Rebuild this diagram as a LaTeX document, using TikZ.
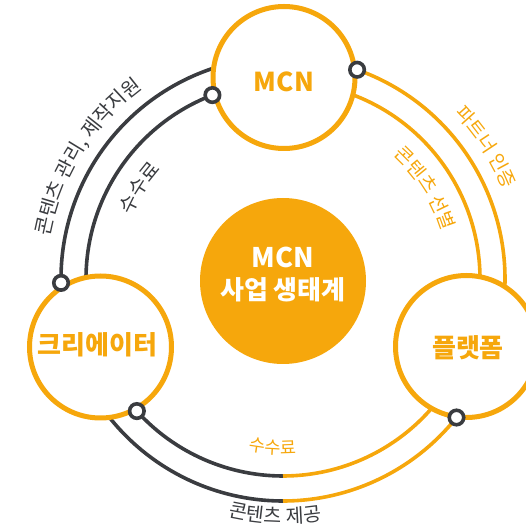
\documentclass[tikz,border=0pt]{standalone}
\usepackage{fontspec}
\setmainfont{Noto Sans CJK KR}
\usetikzlibrary{decorations.text}
\definecolor{org}{RGB}{246,167,12}
\definecolor{drk}{RGB}{58,60,64}
\begin{document}
\begin{tikzpicture}[x=1pt,y=1pt,
  arcline/.style={line width=3.6pt},
  bigring/.style={circle, draw=org, line width=5pt, fill=white, minimum size=142pt, inner sep=0pt},
  dotring/.style={circle, draw=drk, line width=3.6pt, fill=white, minimum size=14.5pt, inner sep=0pt},
  ringtext/.style={text=org, font=\bfseries\fontsize{26}{30}\selectfont, inner sep=0pt},
]
\useasboundingbox (0,0) rectangle (526,530);
\clip (0,0) rectangle (526,530);
\coordinate (C) at (283,251);

% centre disc
\node[circle, fill=org, minimum size=166pt, inner sep=0pt] (eco) at (283,249) {};
\node[text=white, font=\bfseries\fontsize{27}{30}\selectfont, anchor=base] (ecoA) at (283,262) {MCN};
\node[text=white, font=\bfseries\fontsize{26}{30}\selectfont, anchor=base] (ecoB) at (283,230) {사업 생태계};

% connecting arcs
\draw[arcline, drk] ([shift={(185:222)}]C) arc[start angle=185, end angle=106, radius=222];
\draw[arcline, drk] ([shift={(180:197)}]C) arc[start angle=180, end angle=107, radius=197];
\draw[arcline, org] ([shift={(72:222)}]C) arc[start angle=72, end angle=-3, radius=222];
\draw[arcline, org] ([shift={(70:197)}]C) arc[start angle=70, end angle=-1, radius=197];
\draw[arcline, drk] ([shift={(220:197)}]C) arc[start angle=220, end angle=270, radius=197];
\draw[arcline, org] ([shift={(270:197)}]C) arc[start angle=270, end angle=320, radius=197];
\draw[arcline, drk] ([shift={(218:222)}]C) arc[start angle=218, end angle=270, radius=222];
\draw[arcline, org] ([shift={(270:222)}]C) arc[start angle=270, end angle=324, radius=222];

% three actor circles
\node[bigring] (mcn) at (284,452.5) {};
\node[bigring] (cre) at (100.5,183) {};
\node[bigring] (plt) at (466.5,183.5) {};
\node[ringtext] (mcnT) at (284,448) {MCN};
\node[ringtext] (creT) at (97.5,185) {크리에이터};
\node[ringtext] (pltT) at (468,182) {플랫폼};

% junction dots
\node[dotring] (d1) at ([shift={(111:197)}]C) {};
\node[dotring] (d2) at ([shift={(70.5:222)}]C) {};
\node[dotring] (d3) at ([shift={(181:222)}]C) {};
\node[dotring] (d4) at ([shift={(222.1:197)}]C) {};
\node[dotring] (d5) at ([shift={(-38.6:222)}]C) {};

% curved labels
\path[decorate, decoration={text along path, text align=center, text color=drk,
  text={|\fontsize{20}{24}\selectfont|콘텐츠 관리{,} 제작지원}}]
  ([shift={(178:237)}]C) arc[start angle=178, end angle=118, radius=237];
\path[decorate, decoration={text along path, text align=center, text color=drk,
  text={|\fontsize{20}{24}\selectfont|수수료}}]
  ([shift={(177:164)}]C) arc[start angle=177, end angle=118, radius=164];
\path[decorate, decoration={text along path, text align=center, text color=org,
  text={|\fontsize{19}{24}\selectfont|파트너 인증}}]
  ([shift={(63:238)}]C) arc[start angle=63, end angle=3, radius=238];
\path[decorate, decoration={text along path, text align=center, text color=org,
  text={|\fontsize{19}{24}\selectfont|콘텐츠 선별}}]
  ([shift={(62:166)}]C) arc[start angle=62, end angle=3, radius=166];
\path[decorate, decoration={text along path, text align=center, text color=org,
  text={|\fontsize{17.5}{22}\selectfont|수수료}}]
  ([shift={(240:175)}]C) arc[start angle=240, end angle=293.2, radius=175];
\path[decorate, decoration={text along path, text align=center, text color=drk,
  text={|\fontsize{19.5}{24}\selectfont|콘텐츠 제공}}]
  ([shift={(243:244)}]C) arc[start angle=243, end angle=293.2, radius=244];
\end{tikzpicture}
\end{document}
